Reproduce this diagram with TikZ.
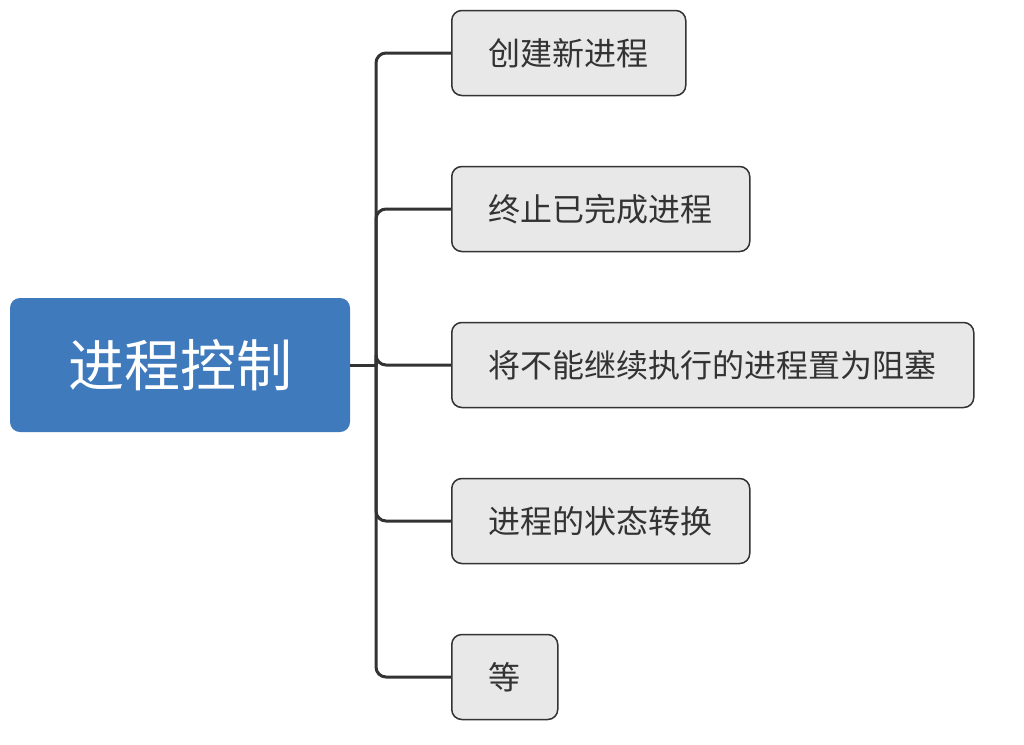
\documentclass[tikz,border=0pt]{standalone}
\usepackage{fontspec}
\usepackage{tikz}
\usetikzlibrary{positioning}
\newfontfamily\cjk{Noto Sans CJK SC}
\definecolor{rootblue}{HTML}{3F7ABD}
\definecolor{leafgray}{HTML}{E8E8E8}
\definecolor{inkgray}{HTML}{333333}

\begin{document}
\begin{tikzpicture}[
      x=1pt,y=-1pt,
      root/.style={fill=rootblue,rounded corners=10pt,minimum width=340pt,minimum height=134pt,
        text=white,font=\cjk\fontsize{56}{62}\selectfont,inner sep=0pt},
      leaf/.style={draw=inkgray,line width=1.5pt,fill=leafgray,rounded corners=10pt,minimum height=85pt,
        inner xsep=37pt,inner ysep=0pt,text=inkgray,font=\cjk\fontsize{32}{36}\selectfont,anchor=west},
      branch/.style={draw=inkgray,line width=3pt,rounded corners=10pt}
    ]
    \useasboundingbox (0,0) rectangle (1024,744);
    \node[root] (r) at (180,365) {进程控制};
    \node[leaf] (c1) at (451,53) {创建新进程};
    \node[leaf] (c2) at (451,209) {终止已完成进程};
    \node[leaf] (c3) at (451,365) {将不能继续执行的进程置为阻塞};
    \node[leaf] (c4) at (451,521) {进程的状态转换};
    \node[leaf] (c5) at (451,677) {等};
    \coordinate (hub) at (376,365);
    \draw[branch] (r.east) -- (hub);
    \foreach \c in {c1,c2,c3,c4,c5}
      \draw[branch] (hub) |- (\c.west);
  \end{tikzpicture}
\end{document}
